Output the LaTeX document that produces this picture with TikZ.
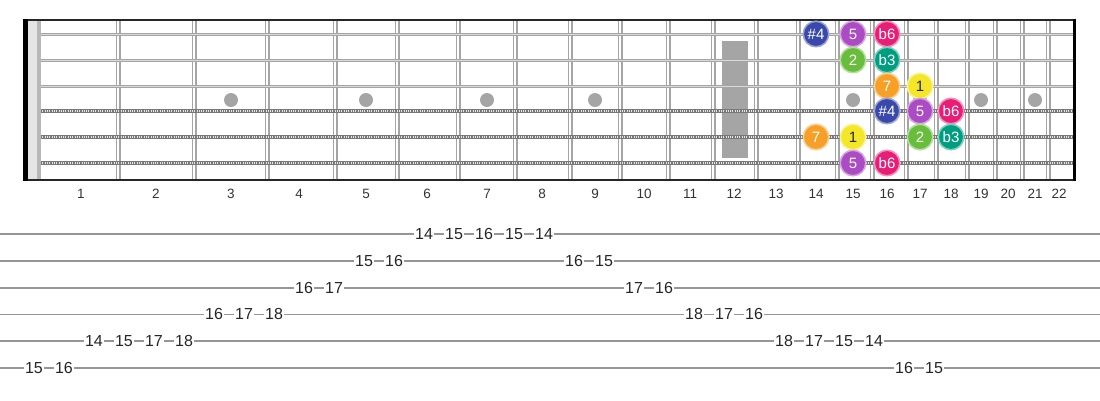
\documentclass[tikz,border=0pt]{standalone}
\usepackage{fontspec}
\setmainfont{Liberation Sans}

\definecolor{fretgray}{RGB}{165,165,165}
\definecolor{markgray}{RGB}{165,165,165}
\definecolor{tabgray}{RGB}{150,150,150}
\definecolor{woundgray}{RGB}{120,120,120}
\definecolor{sharpfour}{RGB}{57,73,171}
\definecolor{fifth}{RGB}{171,76,196}
\definecolor{flatsix}{RGB}{232,30,118}
\definecolor{second}{RGB}{104,190,60}
\definecolor{flatthree}{RGB}{0,158,128}
\definecolor{seventh}{RGB}{247,160,40}
\definecolor{root}{RGB}{244,230,40}

\begin{document}
\begin{tikzpicture}[x=1pt, y=-1pt,
  deg/.style={circle, minimum size=25.5pt, inner sep=0pt, line width=1.5pt, draw=#1!50!white, fill=#1, text=white, font=\fontsize{15}{15}\selectfont},
  fretnum/.style={text=black!80, font=\fontsize{13.5}{14}\selectfont},
  tabnum/.style={fill=white, inner sep=1pt, text=black!85, font=\fontsize{16}{16}\selectfont}]
\useasboundingbox (0,0) rectangle (1100,400);

\fill[markgray] (722,41) rectangle (748,158);
\foreach \x in {231,366,487,595,853,920,981,1035}
  \fill[markgray] (\x,100) circle (7);
\foreach \x in {118,194,267,335,397,458,515,570,620,668,713,756,798,837,872,906,936,967,995,1022,1048}{
  \draw[fretgray, line width=5pt] (\x,19) -- (\x,180);
  \draw[white, line width=1.8pt] (\x,19) -- (\x,180);
}
\foreach \i/\y in {1/34,2/60,3/86,4/111,5/137,6/163}
  \coordinate (s\i) at (24,\y);
\foreach \i in {1,2,3}{
  \draw[fretgray, line width=3pt] (s\i) -- ++(1050,0);
  \draw[black!15, line width=0.7pt] (s\i) -- ++(1050,0);
}
\foreach \i in {4,5,6}{
  \draw[woundgray, line width=4.5pt] (s\i) -- ++(1050,0);
  \draw[black!10, line width=2pt, dash pattern=on 1pt off 1.3pt] (s\i) -- ++(1050,0);
}
\draw[black!85, line width=2pt] (24,19.5) -- (1075,19.5);
\draw[black!85, line width=2pt] (24,180) -- (1075,180);
\draw[black, line width=3pt] (1074,18.5) -- (1074,181);
\fill[black] (23,18.5) rectangle (28,181);
\fill[black!10] (28,20.5) rectangle (37,179);
\fill[black!28] (37,20.5) rectangle (41,179);

\foreach \n/\x in {1/81,2/156,3/231,4/299,5/366,6/427,7/487,8/542,9/595,10/644,11/690,12/734,13/776,14/816,15/853,16/887,17/920,18/951,19/981,20/1008,21/1035,22/1059}
  \node[fretnum] (f\n) at (\x,194) {\n};

\node[deg=sharpfour] (a1) at (f14 |- s1) {\#4};
\node[deg=fifth] (a2) at (f15 |- s1) {5};
\node[deg=flatsix] (a3) at (f16 |- s1) {b6};
\node[deg=second] (b1) at (f15 |- s2) {2};
\node[deg=flatthree] (b2) at (f16 |- s2) {b3};
\node[deg=seventh] (c1) at (f16 |- s3) {7};
\node[deg=root, text=black!85] (c2) at (f17 |- s3) {1};
\node[deg=sharpfour] (d1) at (f16 |- s4) {\#4};
\node[deg=fifth] (d2) at (f17 |- s4) {5};
\node[deg=flatsix] (d3) at (f18 |- s4) {b6};
\node[deg=seventh] (e1) at (f14 |- s5) {7};
\node[deg=root, text=black!85] (e2) at (f15 |- s5) {1};
\node[deg=second] (e3) at (f17 |- s5) {2};
\node[deg=flatthree] (e4) at (f18 |- s5) {b3};
\node[deg=fifth] (g1) at (f15 |- s6) {5};
\node[deg=flatsix] (g2) at (f16 |- s6) {b6};

\foreach \l in {1,...,6}{
  \coordinate (tab\l) at (0,{234+26.8*(\l-1)});
  \draw[tabgray, line width=1.8pt] (tab\l) -- ++(1100,0);
}
\foreach \k/\l/\v in {0/6/15,1/6/16,2/5/14,3/5/15,4/5/17,5/5/18,6/4/16,7/4/17,8/4/18,9/3/16,10/3/17,11/2/15,12/2/16,13/1/14,14/1/15,15/1/16,16/1/15,17/1/14,18/2/16,19/2/15,20/3/17,21/3/16,22/4/18,23/4/17,24/4/16,25/5/18,26/5/17,27/5/15,28/5/14,29/6/16,30/6/15}
  \node[tabnum] (t\k) at ([xshift={(34+30*\k)*1pt}]tab\l) {\v};
\end{tikzpicture}
\end{document}
